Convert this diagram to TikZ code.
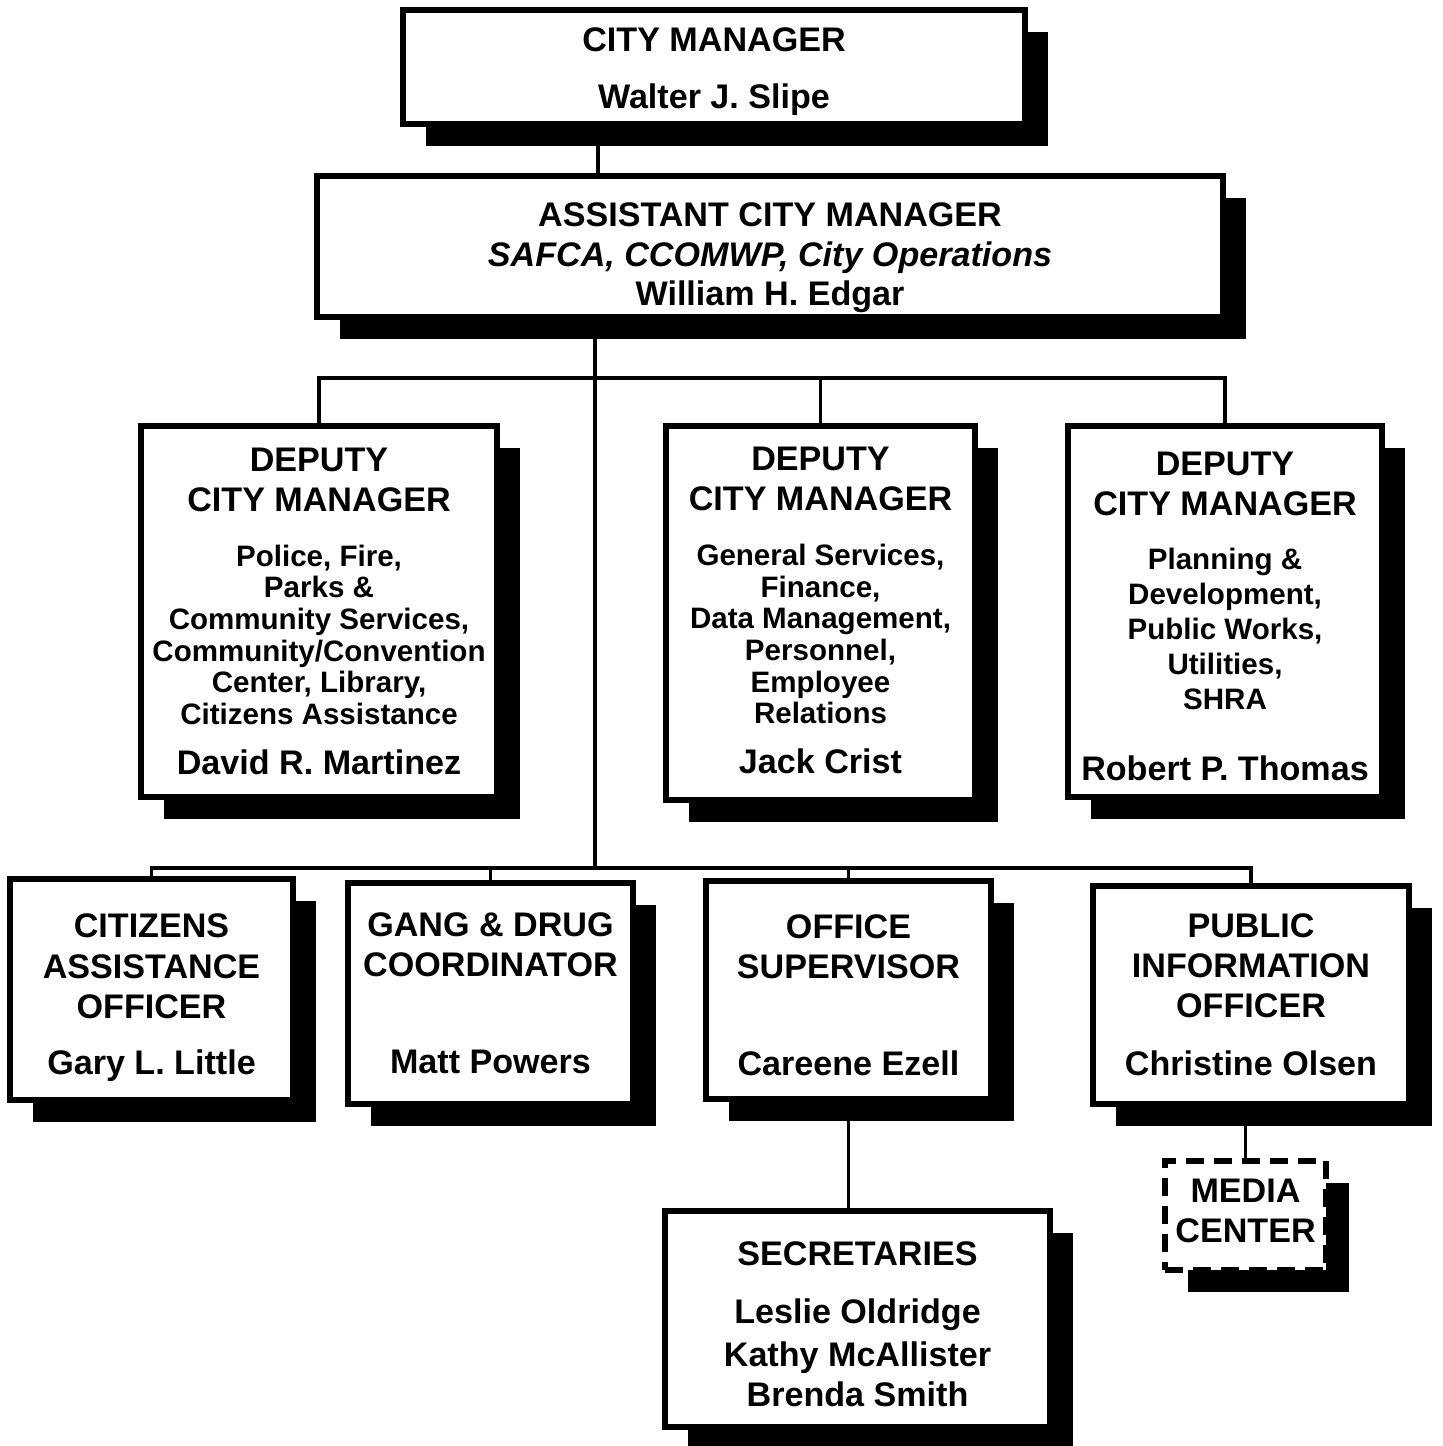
\documentclass[tikz,border=0pt]{standalone}
\usepackage{fontspec}
\setmainfont{Liberation Sans}
\usepackage{tikz}
\usetikzlibrary{shadows}

\newcommand{\duties}{\fontsize{8.4}{9}\selectfont}

\tikzset{
	post/.style={draw, line width=1.7pt, fill=white, inner sep=0pt, align=center,
		font=\bfseries\fontsize{9.7}{9}\selectfont,
		drop shadow={shadow xshift=0.23cm, shadow yshift=-0.22cm, fill=black, opacity=1}},
	link/.style={line width=1.1pt},
	elbow/.style={to path={-| (\tikztotarget)}}
}

\begin{document}
\begin{tikzpicture}[x=0.01cm, y=-0.01cm]
		\useasboundingbox (0,0) rectangle (1443,1446);
		% top of the chart
		\node[post, minimum width=6.22cm, minimum height=1.14cm] (cm) at (714,67)
			{\rule{0pt}{9.3pt}CITY MANAGER\\[7.2pt] Walter J. Slipe};
		\node[post, minimum width=9.06cm, minimum height=1.40cm] (asst) at (770,246.5)
			{\rule{0pt}{13pt}ASSISTANT CITY MANAGER\\[2.4pt]
			 \itshape SAFCA, CCOMWP, City Operations\\[1pt]
			 William H. Edgar};
		% deputies
		\node[post, minimum width=3.56cm, minimum height=3.71cm] (dep1) at (319,611.5)
			{DEPUTY\\[2.4pt] CITY MANAGER\\[6.4pt]
			 {\duties Police, Fire,}\\
			 {\duties Parks \&}\\
			 {\duties Community Services,}\\
			 {\duties Community/Convention}\\
			 {\duties Center, Library,}\\
			 {\duties Citizens Assistance}\\[5.2pt]
			 David R. Martinez};
		\node[post, minimum width=3.09cm, minimum height=3.74cm] (dep2) at (820.5,613)
			{DEPUTY\\[2.4pt] CITY MANAGER\\[6.6pt]
			 {\duties General Services,}\\
			 {\duties Finance,}\\
			 {\duties Data Management,}\\
			 {\duties Personnel,}\\
			 {\duties Employee}\\
			 {\duties Relations}\\[5.2pt]
			 Jack Crist\rule[-1.5pt]{0pt}{0pt}};
		\node[post, minimum width=3.14cm, minimum height=3.71cm] (dep3) at (1225,611.5)
			{\rule{0pt}{9.3pt}DEPUTY\\[2.4pt] CITY MANAGER\\[6.4pt]
			 {\duties Planning \&}\\[1pt]
			 {\duties Development,}\\[1pt]
			 {\duties Public Works,}\\[1pt]
			 {\duties Utilities,}\\[1pt]
			 {\duties SHRA}\\[11pt]
			 Robert P. Thomas};
		% staff
		\node[post, minimum width=2.83cm, minimum height=2.21cm] (cit) at (151.5,989.5)
			{\rule{0pt}{11.5pt}CITIZENS\\[2.4pt] ASSISTANCE\\[2.4pt] OFFICER\\[7pt] Gary L. Little};
		\node[post, minimum width=2.85cm, minimum height=2.21cm] (gang) at (490.5,993.5)
			{GANG \& DRUG\\[2.4pt] COORDINATOR\\[18.6pt] Matt Powers};
		\node[post, minimum width=2.85cm, minimum height=2.18cm] (office) at (848.5,990)
			{\rule{0pt}{9.8pt}OFFICE\\[2.4pt] SUPERVISOR\\[18.6pt] Careene Ezell};
		\node[post, minimum width=3.16cm, minimum height=2.18cm] (pio) at (1251,995)
			{PUBLIC\\[2.4pt] INFORMATION\\[2.4pt] OFFICER\\[7.5pt] Christine Olsen};
		\node[post, dash pattern=on 0.18cm off 0.1cm, minimum width=1.61cm, minimum height=1.09cm] (media) at (1245.5,1215.5)
			{MEDIA\\[2.4pt] CENTER\rule[-2.8pt]{0pt}{0pt}};
		\node[post, minimum width=3.85cm, minimum height=2.16cm] (secr) at (857.5,1319)
			{\rule{0pt}{9.8pt}SECRETARIES\\[7.5pt] Leslie Oldridge\\[2.1pt] Kathy McAllister\\[1.3pt] Brenda Smith};
		%
		\coordinate (upbus) at (595,378);
		\coordinate (lowbus) at (595,868);
		\path[link]
		% trunk
		(cm.south -| 598,0) edge (asst.north -| 598,0)
		(asst.south -| lowbus) edge (lowbus)
		% deputies
		(upbus) edge[elbow] (dep1.north)
		(upbus) edge[elbow] (dep2.north)
		(upbus) edge[elbow] (dep3.north)
		% staff
		(lowbus) edge[elbow] (cit.north)
		(lowbus) edge[elbow] (gang.north)
		(lowbus) edge[elbow] (office.north)
		(lowbus) edge[elbow] (pio.north)
		% below the staff
		(office.south) edge (office.south |- secr.north)
		(pio.south -| media.north) edge (media.north);
	\end{tikzpicture}
\end{document}
